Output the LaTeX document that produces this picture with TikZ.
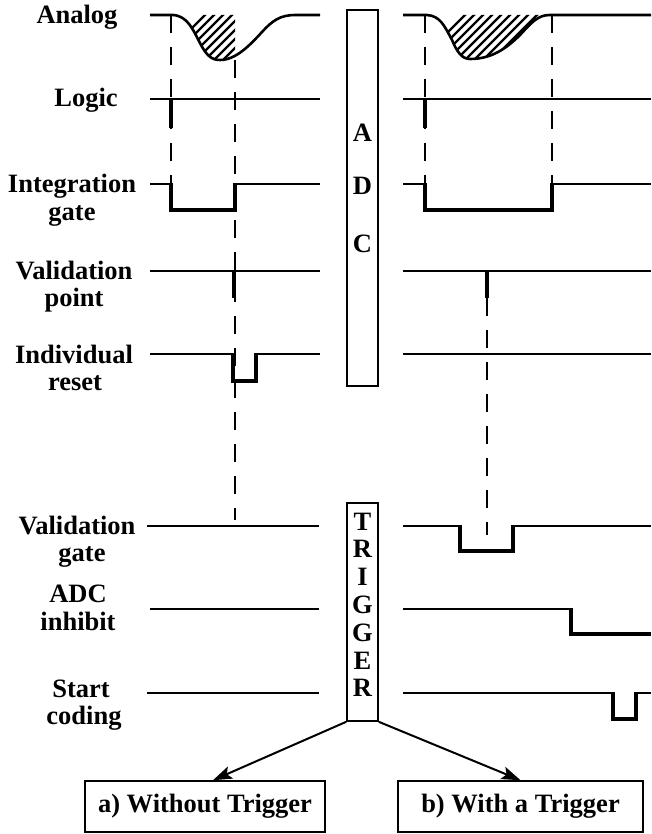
\documentclass[tikz,border=0pt]{standalone}
\usepackage{fontspec}
\setmainfont{Liberation Serif}
\usetikzlibrary{arrows.meta}
\begin{document}
\begin{tikzpicture}[x=1pt,y=-1pt,
  lab/.style={font=\fontsize{26.5}{26}\selectfont\bfseries, inner sep=0pt, anchor=base},
  sig/.style={line width=1.6pt},
  pulse/.style={line width=4.5pt},
  dsh/.style={line width=1.4pt, dash pattern=on 18pt off 14pt},
  ana/.style={line width=2.6pt},
  hatch/.style={line width=2.2pt},
  box/.style={draw, line width=1.6pt, inner sep=0pt},
  arr/.style={line width=2pt, -{Stealth[length=19pt,width=13pt,inset=4pt]}}
]
\useasboundingbox (0,0) rectangle (651,834);
\fill[white] (0,0) rectangle (651,834);

% labels
\node[lab] (lAn) at (77,24) {Analog};
\node[lab] (lLo) at (86,107) {Logic};
\node[lab] (lIn1) at (72,193) {Integration};
\node[lab] (lIn2) at (72,220) {gate};
\node[lab] (lVp1) at (74,279) {Validation};
\node[lab] (lVp2) at (74,306) {point};
\node[lab] (lIr1) at (74,363) {Individual};
\node[lab] (lIr2) at (75,390) {reset};
\node[lab] (lVg1) at (77,534) {Validation};
\node[lab] (lVg2) at (82,561) {gate};
\node[lab] (lAd1) at (78,602) {ADC};
\node[lab] (lAd2) at (78,630) {inhibit};
\node[lab] (lSc1) at (81,697) {Start};
\node[lab] (lSc2) at (84,724) {coding};

% ADC box
\node[box, minimum width=31pt, minimum height=376pt] (adc) at (362.5,198) {};
\node[lab] (adcA) at (362.5,141.5) {A};
\node[lab] (adcD) at (362.5,194.5) {D};
\node[lab] (adcC) at (362.5,252.5) {C};

% TRIGGER box
\node[box, minimum width=31pt, minimum height=218pt] (trig) at (362.5,612) {};
\foreach \c [count=\k from 0] in {T,R,I,G,G,E,R}
  \node[lab] (trig\k) at (362.5,530+27.8*\k) {\c};

% bottom boxes
\node[box, minimum width=240pt, minimum height=51pt,
      font=\fontsize{26.5}{26}\selectfont\bfseries] (boxa) at (205,806.5) {a) Without Trigger};
\node[box, minimum width=245pt, minimum height=51pt,
      font=\fontsize{26.5}{26}\selectfont\bfseries] (boxb) at (520.5,806.5) {b) With a Trigger};
\draw[arr] (trig.south west) -- ([xshift=8pt]boxa.north);
\draw[arr] (trig.south east) -- (boxb.north);

% ---------- left panel ----------
\begin{scope}
  \clip (0,0) rectangle (235,100);
  \clip (173,15) .. controls (188,16) and (193,30) .. (201,45)
        .. controls (207,56) and (212,60) .. (220,60)
        .. controls (236,60) and (250,45) .. (262,32)
        .. controls (272,21) and (280,15) .. (295,15) -- cycle;
  \foreach \i in {0,...,16} \draw[hatch] (140+9*\i,80) -- ++(80,-80);
\end{scope}
\draw[ana] (150,15) -- (173,15) .. controls (188,16) and (193,30) .. (201,45)
        .. controls (207,56) and (212,60) .. (220,60)
        .. controls (236,60) and (250,45) .. (262,32)
        .. controls (272,21) and (280,15) .. (295,15) -- (320,15);
\draw[dsh] (171,15) -- (171,184);
\draw[dsh] (235,60) -- (235,520);
% logic
\draw[sig] (150,99) -- (320,99);
\draw[pulse] (171,99) -- (171,128);
% integration gate
\draw[sig] (150,184) -- (171,184);
\draw[pulse] (171,183) -- (171,210) -- (235,210) -- (235,183);
\draw[sig] (235,184) -- (320,184);
% validation point
\draw[sig] (150,271) -- (320,271);
\draw[pulse] (234,270) -- (234,298);
% individual reset
\draw[sig] (150,354) -- (233,354);
\draw[pulse] (233,353) -- (233,381) -- (256,381) -- (256,353);
\draw[sig] (256,354) -- (320,354);
% validation gate, ADC inhibit, start coding
\draw[sig] (147,526) -- (319,526);
\draw[sig] (150,609) -- (319,609);
\draw[sig] (147,693) -- (319,693);

% ---------- right panel ----------
\begin{scope}
  \clip (427,15) .. controls (440,16) and (444,25) .. (452,40)
        .. controls (457,52) and (462,59) .. (470,59)
        .. controls (490,59) and (505,50) .. (520,35)
        .. controls (532,22) and (538,15) .. (550,15) -- cycle;
  \foreach \i in {0,...,22} \draw[hatch] (400+9*\i,80) -- ++(80,-80);
\end{scope}
\draw[ana] (403,15) -- (427,15) .. controls (440,16) and (444,25) .. (452,40)
        .. controls (457,52) and (462,59) .. (470,59)
        .. controls (490,59) and (505,50) .. (520,35)
        .. controls (532,22) and (538,15) .. (550,15) -- (651,15);
\draw[dsh] (425,15) -- (425,184);
\draw[dsh] (552,15) -- (552,184);
\draw[dsh] (487,298) -- (487,535);
% logic
\draw[sig] (403,99) -- (651,99);
\draw[pulse] (425,99) -- (425,128);
% integration gate
\draw[sig] (403,184) -- (425,184);
\draw[pulse] (425,183) -- (425,210) -- (552,210) -- (552,183);
\draw[sig] (552,184) -- (651,184);
% validation point
\draw[sig] (403,271) -- (651,271);
\draw[pulse] (487,270) -- (487,298);
% individual reset
\draw[sig] (403,354) -- (651,354);
% validation gate
\draw[sig] (403,526) -- (460,526);
\draw[pulse] (460,525) -- (460,551) -- (513,551) -- (513,525);
\draw[sig] (513,526) -- (651,526);
% ADC inhibit
\draw[sig] (403,609) -- (571,609);
\draw[pulse] (571,608) -- (571,634) -- (651,634);
% start coding
\draw[sig] (403,693) -- (613,693);
\draw[pulse] (613,692) -- (613,719) -- (636,719) -- (636,692);
\draw[sig] (636,693) -- (651,693);
\end{tikzpicture}
\end{document}
